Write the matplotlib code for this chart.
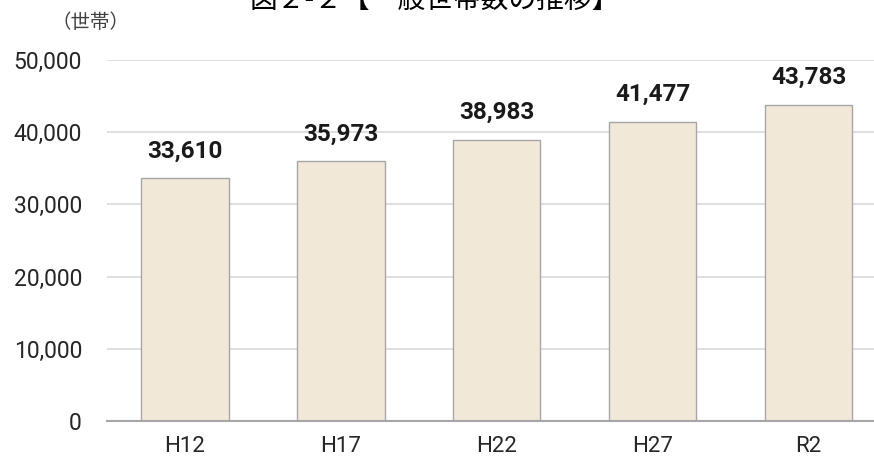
import matplotlib
matplotlib.use("Agg")
import matplotlib.pyplot as plt

categories = ['H12', 'H17', 'H22', 'H27', 'R2']
households = [33610, 35973, 38983, 41477, 43783]
yticks = [0, 10000, 20000, 30000, 40000, 50000]

plt.rcParams['font.family'] = ['Roboto', 'Noto Sans CJK JP', 'DejaVu Sans']

fig = plt.figure(figsize=(8.74, 4.61), dpi=100)
ax = fig.add_axes([0.1224, 0.0868, 0.892, 0.783])

x = range(len(categories))
ax.bar(x, households, width=0.56, color='#F2E8D8', edgecolor='#A6A6A6', linewidth=1, zorder=3)

# 値ラベル
for i, v in zip(x, households):
    ax.text(i, v + 2900, f'{v:,}', ha='center', va='baseline', fontsize=17.5,
            fontweight='bold', color='#1a1a1a')

ax.set_xlim(-0.5, 4.5)
ax.set_ylim(0, 50000)
ax.set_yticks(yticks)
ax.set_yticklabels([f'{t:,}' for t in yticks])
ax.set_xticks(list(x))
ax.set_xticklabels(categories)
ax.tick_params(axis='both', length=0, labelsize=16.5, colors='#262626')
ax.tick_params(axis='y', pad=18)
ax.tick_params(axis='x', labelsize=16, pad=11)

ax.grid(axis='y', color='#D9D9D9', linewidth=1.2, zorder=0)
for s in ['top', 'right', 'left']:
    ax.spines[s].set_visible(False)
ax.spines['bottom'].set_color('#A6A6A6')
ax.spines['bottom'].set_linewidth(1.5)
ax.spines['bottom'].set_zorder(4)

fig.text(0.103, 0.952, '（世帯）', ha='center', va='center', fontsize=14, color='#404040',
         family=['Noto Sans CJK JP', 'DejaVu Sans'])
fig.text(0.497, 1.0, '図２-２【一般世帯数の推移】', ha='center', va='center', fontsize=20,
         color='#000000', family=['Noto Sans CJK JP', 'DejaVu Sans'])

fig.savefig('out.png', dpi=100)
